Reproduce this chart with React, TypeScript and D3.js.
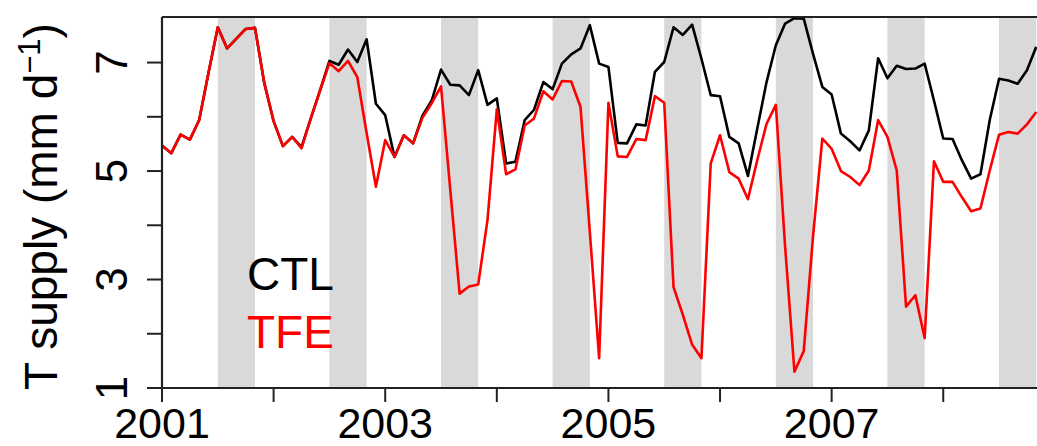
import React from 'react';
import * as d3 from 'd3';

// Monthly transpiration supply, Jan 2001 onward (mm d-1)
const startYear = 2001;
const ctl = [
  5.47, 5.33, 5.67, 5.58, 5.94, 6.81, 7.65, 7.26, 7.44, 7.62, 7.64, 6.62,
  5.92, 5.46, 5.63, 5.44, 5.97, 6.49, 7.03, 6.96, 7.24, 7.01, 7.43, 6.24,
  6.03, 5.26, 5.66, 5.51, 6.02, 6.30, 6.87, 6.59, 6.58, 6.40, 6.86, 6.22,
  6.34, 5.14, 5.17, 5.94, 6.13, 6.64, 6.51, 6.98, 7.15, 7.26, 7.69, 6.98,
  6.92, 5.52, 5.51, 5.86, 5.84, 6.83, 7.01, 7.65, 7.51, 7.70, 7.07, 6.40,
  6.38, 5.63, 5.51, 4.91, 5.78, 6.64, 7.32, 7.72, 7.82, 7.81, 7.16, 6.55,
  6.41, 5.69, 5.55, 5.38, 5.75, 7.08, 6.71, 6.94, 6.88, 6.89, 6.98, 6.30,
  5.60, 5.59, 5.20, 4.86, 4.94, 5.94, 6.70, 6.67, 6.61, 6.86, 7.29,
];
const tfe = [
  5.47, 5.33, 5.67, 5.58, 5.94, 6.81, 7.65, 7.26, 7.44, 7.62, 7.64, 6.62,
  5.92, 5.46, 5.63, 5.42, 5.97, 6.49, 6.99, 6.84, 7.03, 6.73, 5.70, 4.71,
  5.57, 5.26, 5.66, 5.51, 5.98, 6.25, 6.56, 4.65, 2.74, 2.87, 2.91, 4.10,
  6.14, 4.94, 5.03, 5.84, 5.97, 6.47, 6.32, 6.66, 6.65, 6.18, 3.88, 1.55,
  6.26, 5.27, 5.26, 5.59, 5.57, 6.38, 6.26, 2.86, 2.35, 1.80, 1.55, 5.14,
  5.66, 4.98, 4.86, 4.48, 5.20, 5.87, 6.22, 3.60, 1.30, 1.68, 3.80, 5.60,
  5.41, 5.00, 4.89, 4.74, 5.01, 5.94, 5.63, 5.01, 2.50, 2.71, 1.92, 5.18,
  4.80, 4.80, 4.52, 4.26, 4.31, 5.01, 5.67, 5.72, 5.69, 5.86, 6.09,
];

const yTicks = [1, 2, 3, 4, 5, 6, 7];
const yLabels = [1, 3, 5, 7];
const xTicks = [2001, 2002, 2003, 2004, 2005, 2006, 2007, 2008];
const xLabels = [2001, 2003, 2005, 2007];
// Dry season (July through October) of each year
const dryYears = [2001, 2002, 2003, 2004, 2005, 2006, 2007, 2008];
const dryStart = 6 / 12;
const dryEnd = 10 / 12;

const W = 1037;
const H = 446;
const left = 162;
const right = 1037;
const top = 17;
const bottom = 388;
const font = '"Liberation Sans", Arial, Helvetica, sans-serif';

export default function App() {
  const x = d3.scaleLinear().domain([2001, 2008.84]).range([left, right]);
  const y = d3.scaleLinear().domain([1, 7.84]).range([bottom, top]);
  const t = (i: number) => startYear + i / 12;
  const line = d3
    .line<number>()
    .x((_, i) => x(t(i)))
    .y((d) => y(d));

  return (
    <svg
      width={W}
      height={H}
      style={{ position: 'absolute', left: 0, top: 0, background: '#fff' }}
      fontFamily={font}
    >
      <defs>
        <clipPath id="plot">
          <rect x={left} y={top} width={right - left} height={bottom - top} />
        </clipPath>
      </defs>
      <g clipPath="url(#plot)">
        {dryYears.map((yr) => (
          <rect
            key={yr}
            x={x(yr + dryStart)}
            y={top}
            width={x(yr + dryEnd) - x(yr + dryStart)}
            height={bottom - top}
            fill="#d9d9d9"
          />
        ))}
        <path d={line(ctl) || ''} fill="none" stroke="#000" strokeWidth={2.6} strokeLinejoin="round" />
        <path d={line(tfe) || ''} fill="none" stroke="#ff0000" strokeWidth={2.6} strokeLinejoin="round" />
      </g>

      {/* frame: left axis, bottom axis, top border */}
      <g stroke="#222" strokeWidth={2.2} fill="none">
        <line x1={left} y1={top} x2={left} y2={bottom} />
        <line x1={left} y1={bottom} x2={right} y2={bottom} />
        <line x1={left} y1={top} x2={right} y2={top} />
      </g>

      {/* y axis */}
      <g stroke="#222" strokeWidth={2}>
        {yTicks.map((v) => (
          <line key={v} x1={left - 15} x2={left} y1={y(v)} y2={y(v)} />
        ))}
      </g>
      {yLabels.map((v) => (
        <text
          key={v}
          transform={`translate(127,${y(v)}) rotate(-90)`}
          textAnchor="middle"
          fontSize={44}
          fill="#000"
        >
          {v}
        </text>
      ))}

      {/* x axis */}
      <g stroke="#222" strokeWidth={2}>
        {xTicks.map((v) => (
          <line key={v} x1={x(v)} x2={x(v)} y1={bottom} y2={bottom + 14} />
        ))}
      </g>
      {xLabels.map((v) => (
        <text key={v} x={x(v)} y={438} textAnchor="middle" fontSize={43} fill="#000">
          {v}
        </text>
      ))}

      {/* y axis title */}
      <text
        transform={`translate(57,${(top + bottom) / 2 + 4}) rotate(-90)`}
        textAnchor="middle"
        fontSize={46}
        fill="#000"
      >
        T supply (mm d
        <tspan dy={-17} fontSize={31}>−1</tspan>
        <tspan dy={17}>)</tspan>
      </text>

      {/* legend */}
      <text x={247} y={290} fontSize={46} fill="#000">CTL</text>
      <text x={247} y={348} fontSize={46} fill="#ff0000">TFE</text>
    </svg>
  );
}
